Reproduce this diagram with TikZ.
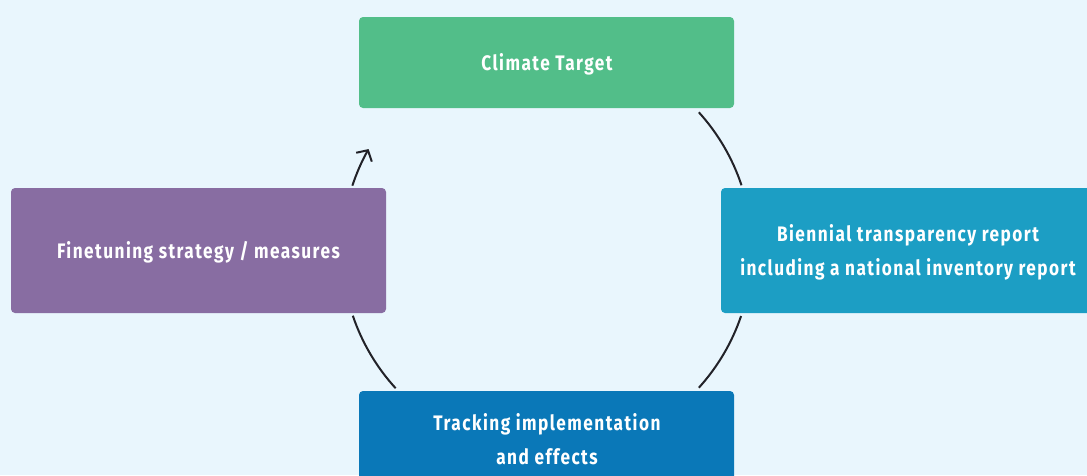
\documentclass[tikz,border=0pt]{standalone}
\usepackage{fontspec}
\setmainfont{Fira Sans}[FakeStretch=0.82, LetterSpace=7]
\usetikzlibrary{arrows.meta}
\definecolor{bgc}{RGB}{233,246,253}
\definecolor{greenc}{RGB}{82,190,137}
\definecolor{bluec}{RGB}{28,158,196}
\definecolor{dbluec}{RGB}{10,120,184}
\definecolor{purplec}{RGB}{136,109,162}
\definecolor{linec}{RGB}{34,34,40}
\begin{document}
\begin{tikzpicture}[x=1pt,y=-1pt,
  box/.style={rounded corners=4pt, text=white, font=\bfseries\fontsize{21}{34}\selectfont, align=center, inner sep=0pt, outer sep=0pt},
  cyc/.style={draw=linec, line width=2pt}]
\useasboundingbox (0,0) rectangle (1087,475);
\clip (0,0) rectangle (1087,475);
\fill[bgc] (0,0) rectangle (1087,475);
\fill[greenc, rounded corners=4pt] (359,17) rectangle (734,108);
\fill[bluec, rounded corners=4pt] (721,188) rectangle (1096,313);
\fill[dbluec, rounded corners=4pt] (359,391) rectangle (734,490);
\fill[purplec, rounded corners=4pt] (11,188) rectangle (386,313);
\node[box] (target) at (547,64) {Climate Target};
\node[box] (report) at (908,252) {Biennial transparency report\\including a national inventory report};
\node[box] (track) at (547,439) {Tracking implementation\\and effects};
\node[box] (fine) at (198.5,252) {Finetuning strategy / measures};
\coordinate (c) at (547,250);
\draw[cyc] ([shift={(c)}]42.2:205pt) arc[start angle=42.2, end angle=18.4, radius=205pt];
\draw[cyc] ([shift={(c)}]-18.8:205pt) arc[start angle=-18.8, end angle=-42.2, radius=205pt];
\draw[cyc] ([shift={(c)}]222.4:205pt) arc[start angle=222.4, end angle=198.7, radius=205pt];
\draw[cyc, -{Straight Barb[length=8pt,width=18pt,line width=2pt]}] ([shift={(c)}]161.7:205pt) arc[start angle=161.7, end angle=150.5, radius=205pt];
\end{tikzpicture}
\end{document}
